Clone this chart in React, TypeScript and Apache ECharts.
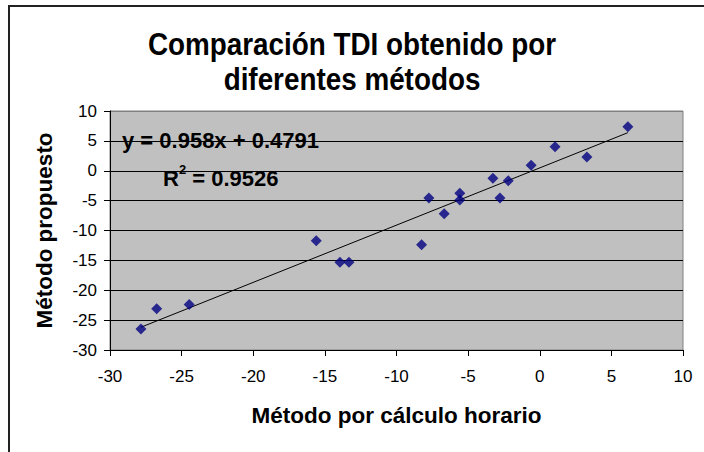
import React, { useEffect, useRef } from "react";
import * as echarts from "echarts";

const titleLines = ["Comparación TDI obtenido por", "diferentes métodos"];
const xAxisTitle = "Método por cálculo horario";
const yAxisTitle = "Método propuesto";

const calcHorario = [-27.84, -26.74, -24.47, -15.6, -13.95, -13.32, -8.25, -7.74, -6.67, -5.58, -5.58, -3.27, -2.78, -2.2, -0.6, 1.07, 3.29, 6.15];
const propuesto = [-26.5, -23.1, -22.4, -11.7, -15.3, -15.3, -12.4, -4.56, -7.19, -3.78, -4.9, -1.27, -4.56, -1.67, 0.91, 4.03, 2.3, 7.38];

const trendSlope = 0.958;
const trendIntercept = 0.4791;
const rSquared = "0.9526";

const axisMin = -30;
const axisMax = 10;
const axisStep = 5;

export default function App() {
  const ref = useRef<HTMLDivElement>(null);
  useEffect(() => {
    if (!ref.current) return;
    const chart = echarts.init(ref.current, null, { renderer: "svg" });
    const pts = calcHorario.map((x, i) => [x, propuesto[i]]);
    const xMin = Math.min(...calcHorario);
    const xMax = Math.max(...calcHorario);
    const trend = [
      [xMin, trendSlope * xMin + trendIntercept],
      [xMax, trendSlope * xMax + trendIntercept],
    ];
    const font = "'Liberation Sans', Arial, sans-serif";
    const nTicks = (axisMax - axisMin) / axisStep + 1;
    const gridColors = Array.from({ length: nTicks }, (_, i) => (i === nTicks - 1 ? "#808080" : "#000000"));
    chart.setOption({
      animation: false,
      backgroundColor: "#ffffff",
      textStyle: { fontFamily: font },
      grid: {
        left: 110,
        top: 111,
        width: 573,
        height: 239,
        show: true,
        backgroundColor: "#c0c0c0",
        borderColor: "#808080",
        borderWidth: 1,
        containLabel: false,
      },
      xAxis: {
        type: "value",
        min: axisMin,
        max: axisMax,
        interval: axisStep,
        name: xAxisTitle,
        nameLocation: "middle",
        nameGap: 65,
        nameTextStyle: { fontSize: 22.5, fontWeight: "bold", color: "#000", fontFamily: font, verticalAlign: "middle" },
        axisLine: { show: true, onZero: false, lineStyle: { color: "#000", width: 1 } },
        axisTick: { show: true, inside: false, length: 6, lineStyle: { color: "#000" } },
        axisLabel: { fontSize: 17, color: "#000", margin: 18, fontFamily: font },
        splitLine: { show: false },
      },
      yAxis: {
        type: "value",
        min: axisMin,
        max: axisMax,
        interval: axisStep,
        name: yAxisTitle,
        nameLocation: "middle",
        nameGap: 66,
        nameRotate: 90,
        nameTextStyle: { fontSize: 22.5, fontWeight: "bold", color: "#000", fontFamily: font, verticalAlign: "middle" },
        axisLine: { show: true, onZero: false, lineStyle: { color: "#000", width: 1 } },
        axisTick: { show: true, inside: false, length: 6, lineStyle: { color: "#000" } },
        axisLabel: { fontSize: 17, color: "#000", margin: 13, fontFamily: font },
        splitLine: { show: true, lineStyle: { color: gridColors, width: 1 } },
      },
      series: [
        {
          type: "line",
          data: trend,
          showSymbol: false,
          symbol: "none",
          lineStyle: { color: "#000", width: 1 },
          silent: true,
          z: 2,
        },
        {
          type: "scatter",
          data: pts,
          symbol: "diamond",
          symbolSize: 11,
          itemStyle: { color: "#000080" },
          z: 3,
        },
      ],
      graphic: [
        {
          type: "rect",
          shape: { x: 9, y: 6, width: 900, height: 700 },
          style: { fill: "none", stroke: "#222", lineWidth: 2 },
          silent: true,
          z: 100,
        },
        {
          type: "text",
          x: 352,
          y: 44,
          scaleX: 0.87,
          style: { text: titleLines[0], fontSize: 32, fontWeight: "bold", fontFamily: font, fill: "#000", align: "center", verticalAlign: "middle" },
        },
        {
          type: "text",
          x: 352,
          y: 79,
          scaleX: 0.87,
          style: { text: titleLines[1], fontSize: 32, fontWeight: "bold", fontFamily: font, fill: "#000", align: "center", verticalAlign: "middle" },
        },
        {
          type: "text",
          x: 122,
          y: 140,
          z: 50,
          style: {
            text: `y = ${trendSlope}x + ${trendIntercept}`,
            fontSize: 22,
            fontWeight: "bold",
            fontFamily: font,
            fill: "#000",
            align: "left",
            verticalAlign: "middle",
          },
        },
        {
          type: "text",
          x: 163,
          y: 176,
          z: 50,
          style: {
            text: `{a|R}{s|2}{a| = ${rSquared}}`,
            align: "left",
            verticalAlign: "middle",
            rich: {
              a: { fontSize: 22, fontWeight: "bold", fontFamily: font, fill: "#000", lineHeight: 26, verticalAlign: "bottom" },
              s: { fontSize: 13, fontWeight: "bold", fontFamily: font, fill: "#000", lineHeight: 26, verticalAlign: "top" },
            },
          },
        },
      ],
    });
    return () => chart.dispose();
  }, []);
  return <div ref={ref} style={{ position: "fixed", left: 0, top: 0, width: 704, height: 452 }} />;
}
